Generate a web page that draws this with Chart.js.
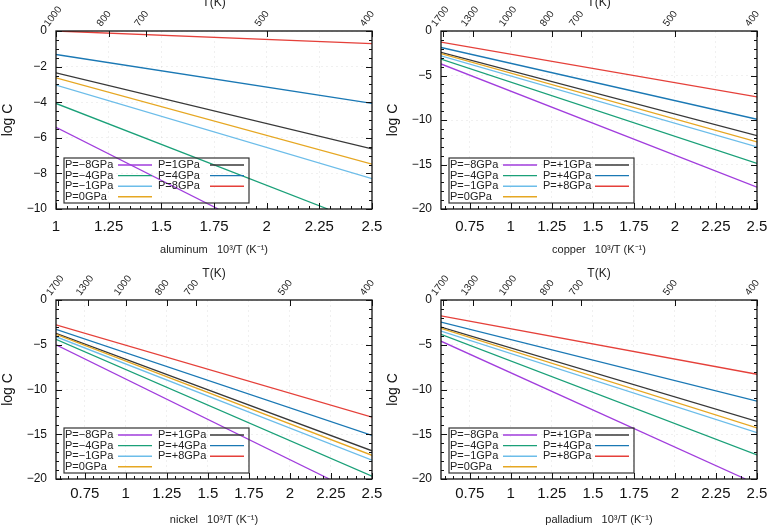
<!DOCTYPE html>
<html>
<head>
<meta charset="utf-8">
<script src="https://cdn.jsdelivr.net/npm/chart.js@4.4.1/dist/chart.umd.min.js"></script>
<style>
  html, body { margin: 0; padding: 0; background: #fff; }
  #wrap { position: relative; width: 771px; height: 527px; overflow: hidden; }
  .panel { position: absolute; }
</style>
</head>
<body>
<div id="wrap">
  <div class="panel" style="left:0;top:0;width:385px;height:263px"><canvas id="c_al"></canvas></div>
  <div class="panel" style="left:385px;top:0;width:386px;height:263px"><canvas id="c_cu"></canvas></div>
  <div class="panel" style="left:0;top:263px;width:385px;height:264px"><canvas id="c_ni"></canvas></div>
  <div class="panel" style="left:385px;top:263px;width:386px;height:264px"><canvas id="c_pd"></canvas></div>
</div>
<script>
// ===== data (series order: -8, -4, -1, 0, +1, +4, +8 GPa) =====
const LABELS_AL = ["P=\u22128GPa", "P=\u22124GPa", "P=\u22121GPa", "P=0GPa", "P=1GPa", "P=4GPa", "P=8GPa"];
const LABELS = ["P=\u22128GPa", "P=\u22124GPa", "P=\u22121GPa", "P=0GPa", "P=+1GPa", "P=+4GPa", "P=+8GPa"];
const COLORS = ["#a13ddd", "#1aa078", "#6cbde9", "#e6a722", "#383838", "#1a78b4", "#e5403a"];

const X_TICKS = [0.75, 1, 1.25, 1.5, 1.75, 2, 2.25, 2.5];
const Y_TICKS_AL = [0, -2, -4, -6, -8, -10];
const Y_TICKS = [0, -5, -10, -15, -20];
const T_TICKS_AL = [1000, 800, 700, 500, 400];
const T_TICKS = [1700, 1300, 1000, 800, 700, 500, 400];

// aluminum: lines start at x = 1
const ALUMINUM_START = [-5.41, -4.07, -3.04, -2.63, -2.35, -1.32, 0.00];
const ALUMINUM_END_X = [1.77, 2.29, 2.5, 2.5, 2.5, 2.5, 2.5];
const ALUMINUM_END = [-10, -10, -8.30, -7.48, -6.62, -4.07, -0.71];

// copper, nickel, palladium: lines start at x = 0.575
const COPPER_START = [-3.70, -3.15, -2.80, -2.55, -2.40, -1.85, -1.25];
const COPPER_END_X = [2.5, 2.5, 2.5, 2.5, 2.5, 2.5, 2.5];
const COPPER_END = [-17.54, -14.88, -13.02, -12.45, -11.75, -9.92, -7.40];

const NICKEL_START = [-5.00, -4.40, -4.10, -3.84, -3.73, -3.28, -2.78];
const NICKEL_END_X = [2.24, 2.5, 2.5, 2.5, 2.5, 2.5, 2.5];
const NICKEL_END = [-20, -19.68, -17.90, -17.35, -16.85, -15.12, -13.10];

const PALLADIUM_START = [-4.60, -3.84, -3.47, -3.17, -3.02, -2.46, -1.77];
const PALLADIUM_END_X = [2.43, 2.5, 2.5, 2.5, 2.5, 2.5, 2.5];
const PALLADIUM_END = [-20, -17.32, -14.82, -14.30, -13.56, -11.30, -8.30];

Chart.defaults.font.family = "'Liberation Sans', Arial, sans-serif";
Chart.defaults.color = "#111";

// ===== frame + gnuplot style inward tics =====
const frameTicks = {
  id: "frameTicks",
  afterDraw(chart, args, opts) {
    const { ctx, chartArea: a } = chart;
    const xs = chart.scales.x, x2 = chart.scales.x2, ys = chart.scales.y;
    ctx.save();
    ctx.strokeStyle = "#111";
    ctx.lineWidth = 1;
    ctx.beginPath();
    // bottom axis: 5 sub-intervals per major step
    const xStep = opts.xStep / 5;
    for (let i = Math.ceil((xs.min - 0.5) / xStep - 1e-6); 0.5 + i * xStep <= xs.max + 1e-6; i++) {
      const v = 0.5 + i * xStep;
      if (v < xs.min - 1e-6) continue;
      const px = Math.round(xs.getPixelForValue(v)) + 0.5;
      const len = (i % 5 === 0) ? 6 : 3;
      ctx.moveTo(px, a.bottom); ctx.lineTo(px, a.bottom - len);
    }
    // top axis: T(K) tics
    x2.ticks.forEach(t => {
      const px = Math.round(x2.getPixelForValue(t.value)) + 0.5;
      ctx.moveTo(px, a.top); ctx.lineTo(px, a.top + 6);
    });
    // left and right: major + minor
    const yStep = opts.yStep / opts.yMinor;
    for (let i = 0; i * yStep <= ys.max - ys.min + 1e-6; i++) {
      const v = ys.max - i * yStep;
      const py = Math.round(ys.getPixelForValue(v)) + 0.5;
      const len = (i % opts.yMinor === 0) ? 6 : 3;
      ctx.moveTo(a.left, py); ctx.lineTo(a.left + len, py);
      ctx.moveTo(a.right, py); ctx.lineTo(a.right - len, py);
    }
    ctx.stroke();
    ctx.lineWidth = 1.3;
    ctx.strokeRect(a.left, a.top, a.right - a.left, a.bottom - a.top);
    ctx.restore();
  }
};

// ===== legend box drawn inside the plot (two columns, text then sample) =====
const insetLegend = {
  id: "insetLegend",
  afterDatasetsDraw(chart) {
    const { ctx, chartArea: a } = chart;
    const ds = chart.data.datasets;
    const boxL = a.left + 8, boxR = a.left + 193;
    const boxT = a.bottom - 51, boxB = a.bottom - 6;
    ctx.save();
    ctx.strokeStyle = "#333";
    ctx.lineWidth = 1.2;
    ctx.strokeRect(boxL, boxT, boxR - boxL, boxB - boxT);
    ctx.font = "11px 'Liberation Sans', Arial, sans-serif";
    ctx.textBaseline = "middle";
    ctx.fillStyle = "#222";
    ds.forEach((d, i) => {
      const col = i < 4 ? 0 : 1;
      const row = i < 4 ? i : i - 4;
      const y = boxT + 7 + row * 10.6;
      const tx = col === 0 ? a.left + 9 : a.left + 102;
      const lx0 = col === 0 ? a.left + 62 : a.left + 154;
      ctx.fillText(d.label, tx, y);
      ctx.strokeStyle = d.borderColor;
      ctx.lineWidth = 1.4;
      ctx.beginPath();
      ctx.moveTo(lx0, y); ctx.lineTo(lx0 + 34, y);
      ctx.stroke();
    });
    ctx.restore();
  }
};

function makePanel(id, p) {
  const datasets = p.labels.map((lab, i) => ({
    label: lab,
    data: [{ x: p.x0, y: p.start[i] }, { x: p.endX[i], y: p.end[i] }],
    borderColor: COLORS[i],
    borderWidth: 1.3,
    pointRadius: 0,
    fill: false,
    tension: 0
  }));

  new Chart(document.getElementById(id), {
    type: "line",
    data: { datasets },
    options: {
      animation: false,
      responsive: true,
      maintainAspectRatio: false,
      layout: { padding: { left: 0, right: p.padRight, top: 0, bottom: 0 } },
      plugins: {
        legend: { display: false },
        tooltip: { enabled: false },
        frameTicks: { xStep: 0.25, yStep: p.yTicks[0] - p.yTicks[1], yMinor: p.yMinor }
      },
      scales: {
        x: {
          type: "linear", position: "bottom", min: p.x0, max: 2.5,
          afterBuildTicks: s => { s.ticks = X_TICKS.filter(v => v >= p.x0).map(v => ({ value: v })); },
          afterFit: s => { s.height = p.bottomH; s.paddingLeft = 0; s.paddingRight = 0; },
          ticks: { autoSkip: false, maxRotation: 0, font: { size: 15 }, color: "#111", padding: p.xTickPad,
                   callback: v => String(v) },
          grid: { color: "rgba(0,0,0,0.06)", drawTicks: false },
          border: { display: false, dash: [2, 3] },
          title: { display: true, text: p.name + "   10\u00b3/T (K\u207b\u00b9)", font: { size: 11 }, color: "#222",
                   padding: { top: 0, bottom: p.xTitlePad } }
        },
        x2: {
          type: "linear", position: "top", min: p.x0, max: 2.5,
          afterBuildTicks: s => { s.ticks = p.tTicks.map(t => ({ value: 1000 / t })); },
          afterFit: s => { s.height = p.topH; s.paddingLeft = 0; s.paddingRight = 0; },
          ticks: { autoSkip: false, minRotation: 53, maxRotation: 53, font: { size: 10 }, color: "#222", padding: 2,
                   callback: v => String(Math.round(1000 / v)) },
          grid: { display: false, drawTicks: false },
          border: { display: false },
          title: { display: true, text: "T(K)", font: { size: 12 }, color: "#222", padding: { top: p.tTitlePad, bottom: 0 } }
        },
        y: {
          type: "linear", position: "left", min: p.yTicks[p.yTicks.length - 1], max: 0,
          afterBuildTicks: s => { s.ticks = p.yTicks.map(v => ({ value: v })); },
          afterFit: s => { s.width = 56; s.paddingTop = 0; s.paddingBottom = 0; },
          ticks: { font: { size: 12 }, color: "#111", padding: 9,
                   callback: v => String(v).replace("-", "\u2212") },
          grid: { color: "rgba(0,0,0,0.06)", drawTicks: false },
          border: { display: false, dash: [2, 3] },
          title: { display: true, text: "log C", font: { size: 14 }, color: "#111", padding: { top: 0, bottom: 0 } }
        }
      }
    },
    plugins: [insetLegend, frameTicks]
  });
}

const TOP_ROW = { padRight: 13, topH: 31, bottomH: 54, xTickPad: 8.5, xTitlePad: 6.5, tTitlePad: -5 };
const BOTTOM_ROW = { padRight: 13, topH: 37, bottomH: 48, xTickPad: 5.5, xTitlePad: 0, tTitlePad: 3 };

makePanel("c_al", Object.assign({}, TOP_ROW, {
  name: "aluminum", labels: LABELS_AL, x0: 1, yTicks: Y_TICKS_AL, yMinor: 4, tTicks: T_TICKS_AL,
  start: ALUMINUM_START, endX: ALUMINUM_END_X, end: ALUMINUM_END
}));
makePanel("c_cu", Object.assign({}, TOP_ROW, {
  name: "copper", labels: LABELS, x0: 0.575, yTicks: Y_TICKS, yMinor: 5, tTicks: T_TICKS,
  start: COPPER_START, endX: COPPER_END_X, end: COPPER_END, padRight: 14
}));
makePanel("c_ni", Object.assign({}, BOTTOM_ROW, {
  name: "nickel", labels: LABELS, x0: 0.575, yTicks: Y_TICKS, yMinor: 5, tTicks: T_TICKS,
  start: NICKEL_START, endX: NICKEL_END_X, end: NICKEL_END
}));
makePanel("c_pd", Object.assign({}, BOTTOM_ROW, {
  name: "palladium", labels: LABELS, x0: 0.575, yTicks: Y_TICKS, yMinor: 5, tTicks: T_TICKS,
  start: PALLADIUM_START, endX: PALLADIUM_END_X, end: PALLADIUM_END, padRight: 14
}));
</script>
</body>
</html>
